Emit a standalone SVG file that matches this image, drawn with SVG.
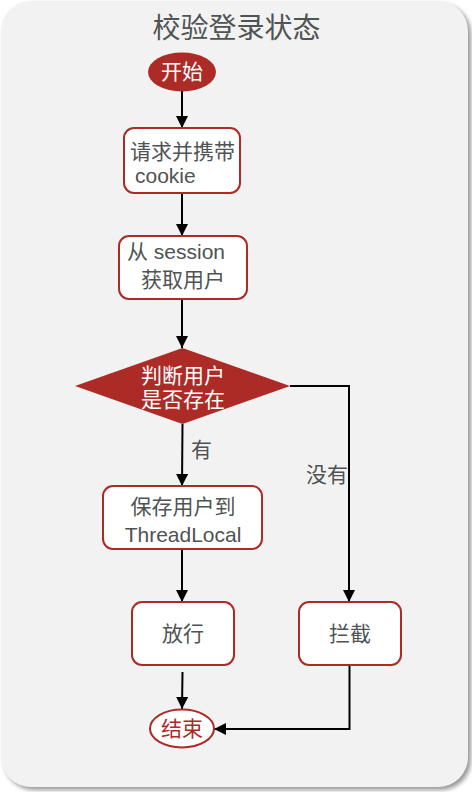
<svg xmlns="http://www.w3.org/2000/svg" width="472" height="792" viewBox="0 0 472 792">
<style>
.t{font-family:"Liberation Sans","Noto Sans CJK SC",sans-serif;font-size:21px;fill:#4f5353;text-anchor:middle}
.w{fill:#ffffff}
.r{fill:#ad2b26}
.box{fill:#ffffff;stroke:#ad2b26;stroke-width:2}
.edge{fill:none;stroke:#000000;stroke-width:2}
</style>
<defs>
<filter id="sh" x="-5%" y="-5%" width="110%" height="110%">
<feGaussianBlur stdDeviation="2"/>
</filter>
<marker id="ah" markerUnits="userSpaceOnUse" markerWidth="12" markerHeight="12" refX="12" refY="6" orient="auto">
<path d="M0,0 L12,6 L0,12 Z" fill="#000000"/>
</marker>
</defs>
<rect x="0" y="0" width="472" height="792" fill="#ffffff"/>
<g id="container">
<rect x="4" y="4" width="467" height="786" rx="30" fill="#9a9a9a" filter="url(#sh)"/>
<rect x="1" y="1" width="467" height="786" rx="30" fill="#f2f2f2"/>
<text class="t" x="236.5" y="38" style="font-size:28px">校验登录状态</text>
</g>
<g id="edges">
<path class="edge" d="M182,91 V128" marker-end="url(#ah)"/>
<path class="edge" d="M182,193 V236" marker-end="url(#ah)"/>
<path class="edge" d="M182,299 V348" marker-end="url(#ah)"/>
<path class="edge" d="M182.5,424 L182,486" marker-end="url(#ah)"/>
<path class="edge" d="M290,386 H349 V602" marker-end="url(#ah)"/>
<path class="edge" d="M182,549 V602" marker-end="url(#ah)"/>
<path class="edge" d="M182.5,672 L182,709" marker-end="url(#ah)"/>
<path class="edge" d="M349.5,665 V729 H214" marker-end="url(#ah)"/>
<text class="t" x="201.5" y="457">有</text>
<text class="t" x="327" y="482">没有</text>
</g>
<g id="start">
<ellipse cx="182" cy="72" rx="34" ry="19.5" fill="#ad2b26"/>
<text class="t w" x="182" y="79">开始</text>
</g>
<g id="request">
<rect class="box" x="124" y="128" width="116" height="65" rx="10"/>
<text class="t" x="182.5" y="159">请求并携带</text>
<text class="t" x="135" y="183" style="text-anchor:start">cookie</text>
</g>
<g id="getuser">
<rect class="box" x="119" y="236" width="128" height="63" rx="10"/>
<text class="t" x="127" y="259" style="text-anchor:start">从 session</text>
<text class="t" x="183" y="287">获取用户</text>
</g>
<g id="decision">
<path d="M182.5,348 L290,386 L182.5,424 L75,386 Z" fill="#ad2b26"/>
<text class="t w" x="183" y="383">判断用户</text>
<text class="t w" x="183" y="407">是否存在</text>
</g>
<g id="save">
<rect class="box" x="103" y="486" width="159" height="63" rx="10"/>
<text class="t" x="183" y="514">保存用户到</text>
<text class="t" x="183" y="542">ThreadLocal</text>
</g>
<g id="allow">
<rect class="box" x="132" y="602" width="102" height="63" rx="10"/>
<text class="t" x="183" y="641">放行</text>
</g>
<g id="block">
<rect class="box" x="299" y="602" width="102" height="63" rx="10"/>
<text class="t" x="350" y="641">拦截</text>
</g>
<g id="end">
<ellipse cx="182" cy="728.5" rx="32" ry="19" fill="#ffffff" stroke="#ad2b26" stroke-width="2"/>
<text class="t r" x="182" y="736">结束</text>
</g>
</svg>
